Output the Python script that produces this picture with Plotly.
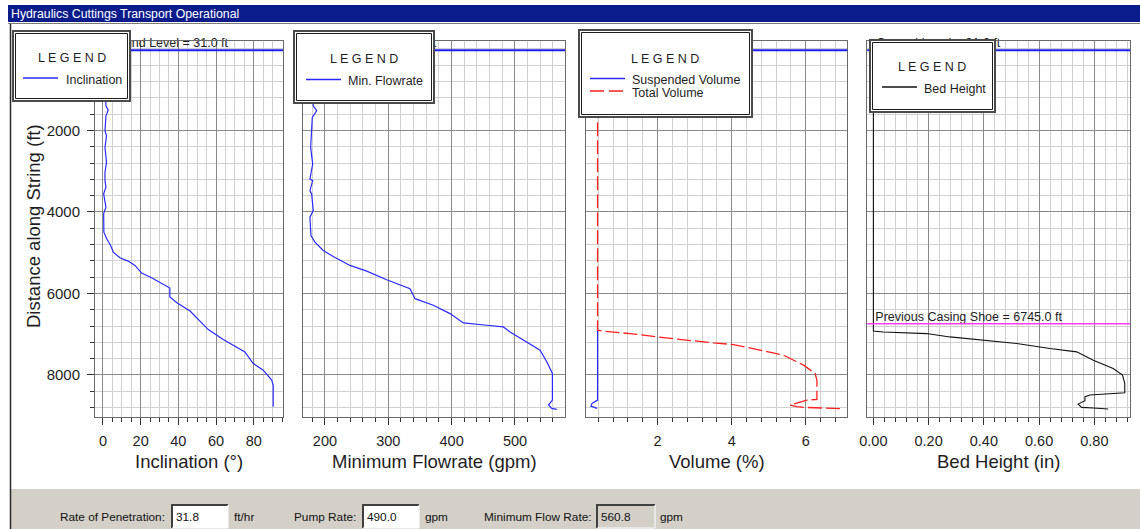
import plotly.graph_objects as go

W, H = 1140, 529
FONT = "Liberation Sans, Arial, sans-serif"
TEXT = "#1e1e1e"
BLUE = "#2a2aff"
RED = "#ff1f1f"
BLACK = "#111111"

# ---------------------------------------------------------------- data
GROUND_LEVEL = 31.0
CASING_SHOE = 6745.0
DEPTH_RANGE = [9025, -196]
depth_ticks = [2000, 4000, 6000, 8000]

incl_depth = [31, 500, 1000, 1395, 1501, 1640, 2007, 2130, 2416, 2783, 3028,
              3231, 3395, 3557, 3885, 4040, 4497, 4660, 4823, 4986, 5125,
              5206, 5312, 5500, 5614, 5745, 5868, 6088, 6235, 6431, 6642,
              6887, 7131, 7271, 7434, 7719, 7882, 8127, 8250, 8780]
inclination = [0.5, 0.8, 1.2, 1.6, 2.8, 1.6, 1.1, 1.9, 1.1, 1.9, 1.1,
               1.1, 1.6, 0.4, 1.6, 0.4, 0.5, 2.0, 4.1, 5.5, 9.0,
               13.4, 17.0, 20.5, 25.8, 31.1, 35.5, 35.5, 39.4, 46.2, 50.6,
               55.9, 63.8, 69.1, 75.3, 79.7, 85.0, 89.5, 90.3, 90.3]

flow_depth = [31, 500, 1000, 1395, 1518, 1681, 2416, 2823, 3190, 3231, 3476,
              3557, 3966, 4129, 4578, 4741, 4945, 5092, 5312, 5452, 5663,
              5883, 6128, 6291, 6495, 6724, 6781, 6822, 6945, 7393, 7678,
              7963, 8617, 8739, 8820, 8845]
min_flowrate = [178, 179, 180, 181.5, 187, 180, 177.4, 180.6, 176.3, 180.6, 176.3,
                179, 181.5, 176.3, 177.9, 184.2, 197.3, 213, 239.5, 265.9, 297.5,
                334.3, 342.2, 371.1, 397.5, 418.5, 455.5, 481.7, 492.3, 539.7, 550.2,
                559.1, 559.1, 552.8, 558.1, 566.0]

total_depth = [31, 6903, 6928, 6985, 7067, 7148, 7214, 7254, 7368, 7515,
               7760, 7963, 8127, 8600, 8617, 8682, 8739, 8780, 8796, 8830]
total_volume = [0.38, 0.38, 0.54, 1.26, 1.98, 2.79, 3.51, 4.05, 4.68, 5.40,
                5.94, 6.25, 6.30, 6.30, 6.03, 5.76, 5.58, 5.76, 5.98, 6.97]

susp_depth = [6862, 8617, 8698, 8764, 8820]
suspended_volume = [0.38, 0.38, 0.23, 0.20, 0.37]

bed_depth = [31, 6920, 6945, 6985, 7067, 7148, 7229, 7352, 7434, 7638, 7841,
             8005, 8208, 8437, 8494, 8535, 8633, 8715, 8796, 8813, 8837]
bed_height = [0, 0, 0.036, 0.193, 0.277, 0.398, 0.519, 0.639, 0.736, 0.796, 0.868,
              0.902, 0.910, 0.910, 0.784, 0.766, 0.766, 0.741, 0.754, 0.796, 0.850]

x_titles = ["Inclination (°)", "Minimum Flowrate (gpm)", "Volume (%)", "Bed Height (in)"]

rate_of_penetration = "31.8"
pump_rate = "490.0"
minimum_flow_rate = "560.8"


# ---------------------------------------------------------------- helpers
def fx(x):
    return x / W


def fy(y):
    return 1 - y / H


PLOT_TOP, PLOT_BOTTOM = 41, 416.7
panels = [
    dict(px=(95, 283), rng=[-4.2, 95.5], dtick=20, minor=5, fmt=None),
    dict(px=(303.3, 565), rng=[165.8, 579], dtick=100, minor=20, fmt=None),
    dict(px=(585.7, 847.3), rng=[0.06, 7.12], dtick=2, minor=0.4, fmt=None),
    dict(px=(867.3, 1130), rng=[-0.022, 0.929], dtick=0.2, minor=0.04, fmt=".2f"),
]


def axis_name(n, letter):
    return letter + ("" if n == 1 else str(n))


def offset_x(p, pixels):
    """Data value lying `pixels` to the right of a track's left edge."""
    lo, hi = p["rng"]
    return lo + (hi - lo) * pixels / (p["px"][1] - p["px"][0])


fig = go.Figure()

series = [
    (inclination, incl_depth, 1, dict(color=BLUE, width=1.2)),
    (min_flowrate, flow_depth, 2, dict(color=BLUE, width=1.2)),
    (suspended_volume, susp_depth, 3, dict(color=BLUE, width=1.2)),
    (total_volume, total_depth, 3, dict(color=RED, width=1.3, dash="14px,4px")),
    (bed_height, bed_depth, 4, dict(color=BLACK, width=1.1)),
]
for xs, ys, n, line in series:
    fig.add_trace(go.Scatter(x=xs, y=ys, mode="lines", line=line,
                             xaxis=axis_name(n, "x"), yaxis=axis_name(n, "y"),
                             showlegend=False, hoverinfo="skip"))

# reference-line captions, drawn as text marks so the legend frames sit over them
for i, p in enumerate(panels):
    n = i + 1
    fig.add_trace(go.Scatter(
        x=[offset_x(p, 9)], y=[GROUND_LEVEL], mode="text",
        text=[f"Ground Level = {GROUND_LEVEL:.1f} ft"], textposition="top right",
        textfont=dict(family=FONT, size=12.5, color=TEXT), cliponaxis=False,
        xaxis=axis_name(n, "x"), yaxis=axis_name(n, "y"),
        showlegend=False, hoverinfo="skip"))
fig.add_trace(go.Scatter(
    x=[offset_x(panels[3], 8)], y=[CASING_SHOE], mode="text",
    text=[f"Previous Casing Shoe = {CASING_SHOE:.1f} ft"], textposition="top right",
    textfont=dict(family=FONT, size=12.5, color=TEXT), cliponaxis=False,
    xaxis="x4", yaxis="y4", showlegend=False, hoverinfo="skip"))

layout = dict(
    width=W, height=H, autosize=False,
    margin=dict(l=0, r=0, t=0, b=0),
    paper_bgcolor="white", plot_bgcolor="white",
    font=dict(family=FONT, color=TEXT),
    showlegend=False,
)

MAJOR_GRID = "#8a8a8a"
MINOR_GRID = "#d0d0d0"
FRAME = "#6a6a6a"

for i, p in enumerate(panels):
    n = i + 1
    xa = dict(
        domain=[fx(p["px"][0]), fx(p["px"][1])],
        range=p["rng"], anchor=axis_name(n, "y"),
        tickmode="linear", tick0=0, dtick=p["dtick"],
        showgrid=True, gridcolor=MAJOR_GRID, gridwidth=1,
        ticks="outside", ticklen=7, tickcolor="#333333", tickwidth=1,
        minor=dict(dtick=p["minor"], tick0=0, showgrid=True, gridcolor=MINOR_GRID,
                   ticks="outside", ticklen=4, tickcolor="#333333"),
        showline=True, mirror=True, linecolor=FRAME, linewidth=1,
        zeroline=False, automargin=False,
        tickfont=dict(size=14.5, family=FONT, color=TEXT),
        ticklabelstandoff=4,
    )
    if p["fmt"]:
        xa["tickformat"] = p["fmt"]
    ya = dict(
        domain=[fy(PLOT_BOTTOM), fy(PLOT_TOP)],
        range=DEPTH_RANGE, anchor=axis_name(n, "x"),
        tickmode="array", tickvals=depth_ticks,
        ticktext=[str(v) for v in depth_ticks],
        showgrid=True, gridcolor=MAJOR_GRID, gridwidth=1,
        minor=dict(tickmode="linear", tick0=0, dtick=400, showgrid=True, gridcolor=MINOR_GRID,
                   ticks="outside" if n == 1 else "", ticklen=4, tickcolor="#333333"),
        ticks="outside" if n == 1 else "", ticklen=7, tickcolor="#333333",
        showticklabels=(n == 1),
        showline=True, mirror=True, linecolor=FRAME, linewidth=1,
        zeroline=False, automargin=False,
        tickfont=dict(size=15, family=FONT, color=TEXT),
        ticklabelstandoff=4,
    )
    layout[axis_name(n, "xaxis")] = xa
    layout[axis_name(n, "yaxis")] = ya

fig.update_layout(**layout)

shapes = []
annotations = []

# window chrome: title bar and frame
shapes.append(dict(type="rect", xref="paper", yref="paper",
                   x0=fx(8), x1=fx(W), y0=fy(22), y1=fy(5),
                   fillcolor="#0a1c8c", line=dict(width=0), layer="above"))
shapes.append(dict(type="line", xref="paper", yref="paper",
                   x0=fx(8), x1=fx(W), y0=fy(23.5), y1=fy(23.5),
                   line=dict(color="#7a7a7a", width=1), layer="above"))
shapes.append(dict(type="rect", xref="paper", yref="paper",
                   x0=fx(10.5), x1=fx(W + 2), y0=fy(H), y1=fy(489),
                   fillcolor="#d4d0c8", line=dict(width=0), layer="above"))
shapes.append(dict(type="line", xref="paper", yref="paper",
                   x0=fx(10.5), x1=fx(10.5), y0=fy(24), y1=fy(H),
                   line=dict(color="#2a2a2a", width=1.5), layer="above"))
annotations.append(dict(text="Hydraulics Cuttings Transport Operational",
                        xref="paper", yref="paper", x=fx(9), y=fy(13.5),
                        xanchor="left", yanchor="middle", showarrow=False,
                        font=dict(family=FONT, size=12.3, color="white")))

# ground level line on every track, casing shoe on the bed-height track
for i in range(4):
    n = i + 1
    shapes.append(dict(
        type="line", xref=axis_name(n, "x") + " domain", yref=axis_name(n, "y"),
        x0=0, x1=1, y0=GROUND_LEVEL, y1=GROUND_LEVEL,
        line=dict(color="#1d1df2", width=2), layer="above"))
shapes.append(dict(
    type="line", xref="x4 domain", yref="y4",
    x0=0, x1=1, y0=CASING_SHOE, y1=CASING_SHOE,
    line=dict(color="#ff3cff", width=1.5), layer="above"))

# legend frames
legends = [
    dict(box=(12, 30, 131, 102), head=(71.5, 58),
         items=[(23, 58, 78, BLUE, None, "Inclination", 64, 80)]),
    dict(box=(293, 30, 435, 104), head=(364, 59.5),
         items=[(306, 341, 79.5, BLUE, None, "Min. Flowrate", 346, 81)]),
    dict(box=(578, 29, 753, 118), head=(665, 58.5),
         items=[(590, 625, 78.5, BLUE, None, "Suspended Volume", 630, 79.5),
                (590, 625, 91, RED, "14px,5px", "Total Volume", 630, 93)]),
    dict(box=(869, 39, 996, 113), head=(931.5, 67),
         items=[(882, 917, 87, BLACK, None, "Bed Height", 922, 89.5)]),
]
for lg in legends:
    x0, y0, x1, y1 = lg["box"]
    shapes.append(dict(type="rect", xref="paper", yref="paper",
                       x0=fx(x0 + 1), x1=fx(x1 - 1), y0=fy(y1 - 1), y1=fy(y0 + 1),
                       fillcolor="white", line=dict(color="#4a4a4a", width=2), layer="above"))
    shapes.append(dict(type="rect", xref="paper", yref="paper",
                       x0=fx(x0 + 3.5), x1=fx(x1 - 3.5), y0=fy(y1 - 3.5), y1=fy(y0 + 3.5),
                       fillcolor="rgba(0,0,0,0)", line=dict(color="#1c1c1c", width=1), layer="above"))
    hx, hy = lg["head"]
    annotations.append(dict(text="L E G E N D", xref="paper", yref="paper",
                            x=fx(hx), y=fy(hy), xanchor="center", yanchor="middle",
                            showarrow=False, font=dict(family=FONT, size=12.5, color=TEXT)))
    for lx0, lx1, ly, color, dash, label, tx, ty in lg["items"]:
        line = dict(color=color, width=1.3)
        if dash:
            line["dash"] = dash
        shapes.append(dict(type="line", xref="paper", yref="paper",
                           x0=fx(lx0), x1=fx(lx1), y0=fy(ly), y1=fy(ly),
                           line=line, layer="above"))
        annotations.append(dict(text=label, xref="paper", yref="paper",
                                x=fx(tx), y=fy(ty), xanchor="left", yanchor="middle",
                                showarrow=False, font=dict(family=FONT, size=12.5, color=TEXT)))

# axis titles
for p, title in zip(panels, x_titles):
    annotations.append(dict(text=title, xref="paper", yref="paper",
                            x=fx((p["px"][0] + p["px"][1]) / 2), y=fy(461),
                            xanchor="center", yanchor="middle", showarrow=False,
                            font=dict(family=FONT, size=18.5, color=TEXT)))
annotations.append(dict(text="Distance along String (ft)", xref="paper", yref="paper",
                        x=fx(33), y=fy(226), textangle=-90,
                        xanchor="center", yanchor="middle", showarrow=False,
                        font=dict(family=FONT, size=18.5, color=TEXT)))

# status bar with input fields
fields = [
    ("Rate of Penetration:", 58, rate_of_penetration, (172, 228), "white", "ft/hr", 232),
    ("Pump Rate:", 292, pump_rate, (363, 419), "white", "gpm", 423),
    ("Minimum Flow Rate:", 482, minimum_flow_rate, (597, 655), "#d4d0c8", "gpm", 658),
]
BAR_Y = 517
BAR_FONT = dict(family=FONT, size=11.8, color="#101010")
for label, lx, value, (bx0, bx1), fill, unit, ux in fields:
    annotations.append(dict(text=label, xref="paper", yref="paper", x=fx(lx), y=fy(BAR_Y),
                            xanchor="left", yanchor="middle", showarrow=False, font=BAR_FONT))
    shapes.append(dict(type="rect", xref="paper", yref="paper",
                       x0=fx(bx0), x1=fx(bx1), y0=fy(528), y1=fy(505),
                       fillcolor=fill, line=dict(width=0), layer="above"))
    shapes.append(dict(type="path", xref="paper", yref="paper",
                       path=f"M {fx(bx0)},{fy(528)} L {fx(bx0)},{fy(505)} L {fx(bx1)},{fy(505)}",
                       line=dict(color="#404040", width=2), layer="above"))
    shapes.append(dict(type="path", xref="paper", yref="paper",
                       path=f"M {fx(bx0)},{fy(528)} L {fx(bx1)},{fy(528)} L {fx(bx1)},{fy(505)}",
                       line=dict(color="#ffffff", width=1), layer="above"))
    annotations.append(dict(text=value, xref="paper", yref="paper", x=fx(bx0 + 2), y=fy(BAR_Y),
                            xanchor="left", yanchor="middle", showarrow=False, font=BAR_FONT))
    annotations.append(dict(text=unit, xref="paper", yref="paper", x=fx(ux), y=fy(BAR_Y),
                            xanchor="left", yanchor="middle", showarrow=False, font=BAR_FONT))

fig.update_layout(shapes=shapes, annotations=annotations)
fig.write_html("out.html")
